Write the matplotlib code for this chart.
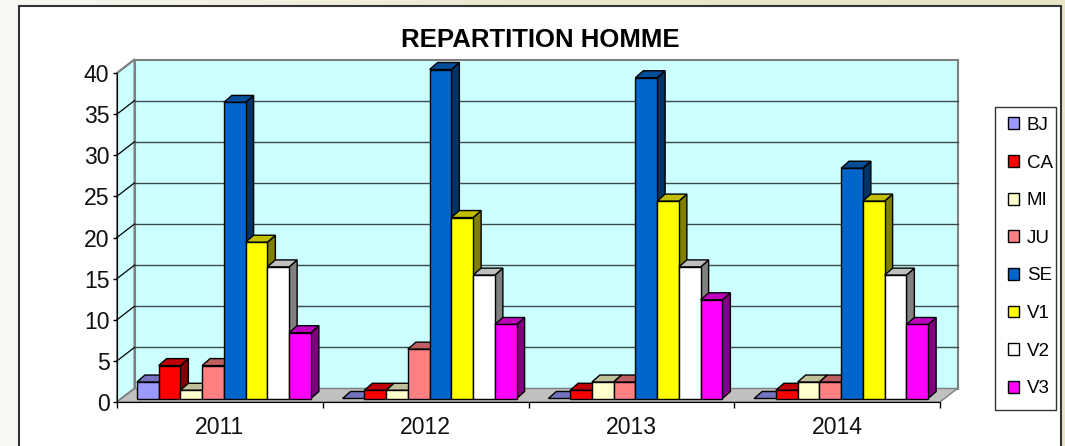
import matplotlib
matplotlib.use('Agg')
import matplotlib.pyplot as plt
from matplotlib.colors import LinearSegmentedColormap
from matplotlib.patches import Polygon, Rectangle
import numpy as np

plt.rcParams['font.family'] = ['Liberation Sans', 'DejaVu Sans']

years = ['2011', '2012', '2013', '2014']
names = ['BJ', 'CA', 'MI', 'JU', 'SE', 'V1', 'V2', 'V3']
bj = [2, 0, 0, 0]
ca = [4, 1, 1, 1]
mi = [1, 1, 2, 2]
ju = [4, 6, 2, 2]
se = [36, 40, 39, 28]
v1 = [19, 22, 24, 24]
v2 = [16, 15, 16, 15]
v3 = [8, 9, 12, 9]
series = [bj, ca, mi, ju, se, v1, v2, v3]
colors = ['#9999FF', '#FF0000', '#FFFFCC', '#FF8080', '#0066CC', '#FFFF00', '#FFFFFF', '#FF00FF']
yticks = np.arange(0, 45, 5)

W, H = 1065, 446
fig = plt.figure(figsize=(W / 100, H / 100), dpi=100, facecolor='#F6F6EE')

# beige backdrop getting darker to the right, white panel on top of it
bg = fig.add_axes([0, 0, 1, 1], zorder=-2)
bg.axis('off')
cmap = LinearSegmentedColormap.from_list('bg', ['#F9F9F3', '#EBE7CE', '#E8E4C6'])
bg.imshow(np.linspace(0, 1, 256).reshape(1, -1), cmap=cmap, aspect='auto', extent=(0, W, H, 0))
bg.add_patch(Rectangle((19, 6), 1061 - 19, H + 10, fc='white', ec='#333333', lw=1.5))
# legend box
bg.add_patch(Rectangle((995, 107), 61, 303, fc='white', ec='#333333', lw=1.0))
bg.set_xlim(0, W)
bg.set_ylim(H, 0)

ax = fig.add_axes([117 / W, 1 - 402 / H, (940 - 117) / W, (402 - 73) / H])
ax.set_xlim(0, 4)
ax.set_ylim(0, 40)
ax.patch.set_visible(False)
for s in ax.spines.values():
    s.set_visible(False)

px_x = 4 / (940 - 117)
px_y = 40 / (402 - 73)
wall_dx = 17.5 * px_x
wall_dy = 13.5 * px_y
bar_off_x = 4 * px_x
bar_off_y = 3.5 * px_y
dep_x = 8 * px_x
dep_y = 7 * px_y


def poly(pts, fc, ec='black', lw=1.0, z=1):
    ax.add_patch(Polygon(pts, closed=True, fc=fc, ec=ec, lw=lw, zorder=z, clip_on=False, joinstyle='miter'))


def shade(c, f):
    rgb = np.array(matplotlib.colors.to_rgb(c)) * f
    return tuple(rgb)


# walls and floor
poly([(wall_dx, wall_dy), (4 + wall_dx, wall_dy), (4 + wall_dx, 40 + wall_dy), (wall_dx, 40 + wall_dy)],
     '#CCFFFF', ec='#808080', lw=1.5)
poly([(0, 0), (wall_dx, wall_dy), (wall_dx, 40 + wall_dy), (0, 40)], '#CCFFFF', ec='#808080', lw=1.5)
poly([(0, 0), (4, 0), (4 + wall_dx, wall_dy), (wall_dx, wall_dy)], '#C0C0C0', ec='#808080', lw=1.0)

for v in yticks[1:-1]:
    ax.plot([wall_dx, 4 + wall_dx], [v + wall_dy, v + wall_dy], color='#3c4a4a', lw=1.0, zorder=1.5, clip_on=False)
for v in yticks[:-1]:
    ax.plot([0, wall_dx], [v, v + wall_dy], color='black' if v else '#808080', lw=0.9, zorder=1.5, clip_on=False)
ax.plot([0, wall_dx], [40, 40 + wall_dy], color='#808080', lw=1.2, zorder=1.5, clip_on=False)

# bars, left to right so each one covers the side of the previous one
bw = 21.75 * px_x
z = 2
for g in range(len(years)):
    start = g + 0.5 - 4 * bw + bar_off_x
    for i, vals in enumerate(series):
        x0 = start + i * bw
        x1 = x0 + bw
        b = bar_off_y
        t = vals[g] + b
        c = colors[i]
        if vals[g] > 0:
            poly([(x0, b), (x1, b), (x1, t), (x0, t)], c, z=z + 0.2)
        poly([(x1, b), (x1 + dep_x, b + dep_y), (x1 + dep_x, t + dep_y), (x1, t)], shade(c, 0.5), z=z)
        poly([(x0, t), (x1, t), (x1 + dep_x, t + dep_y), (x0 + dep_x, t + dep_y)], shade(c, 0.75), z=z + 0.1)
        z += 1

ax.spines['left'].set_visible(True)
ax.spines['left'].set_zorder(1.6)
ax.spines['bottom'].set_visible(True)
ax.spines['bottom'].set_zorder(1.6)
ax.set_yticks(yticks)
ax.set_xticks(np.arange(5))
ax.set_xticklabels([])
ax.set_xticks(np.arange(4) + 0.5, labels=years, minor=True)
ax.tick_params(axis='x', which='major', length=4, width=1, direction='out')
ax.tick_params(axis='x', which='minor', length=0, labelsize=16.6, pad=10, labelcolor='#111111')
ax.tick_params(axis='y', length=3, width=1, labelsize=16.6, pad=2.4, labelcolor='#111111')

fig.text(540 / W, 1 - 40 / H, 'REPARTITION HOMME', ha='center', va='center', fontsize=18.5, fontweight='bold')

handles = [Rectangle((0, 0), 1, 1, fc=c, ec='black', lw=1.0) for c in colors]
leg = fig.legend(handles, names, loc='upper left',
                 bbox_to_anchor=(1008 / W, 1 - 117 / H), borderaxespad=0,
                 fontsize=13.5, frameon=False, handlelength=0.6, handleheight=0.6,
                 handletextpad=0.4, labelspacing=1.10, borderpad=0)

fig.savefig('out.png', dpi=100)
